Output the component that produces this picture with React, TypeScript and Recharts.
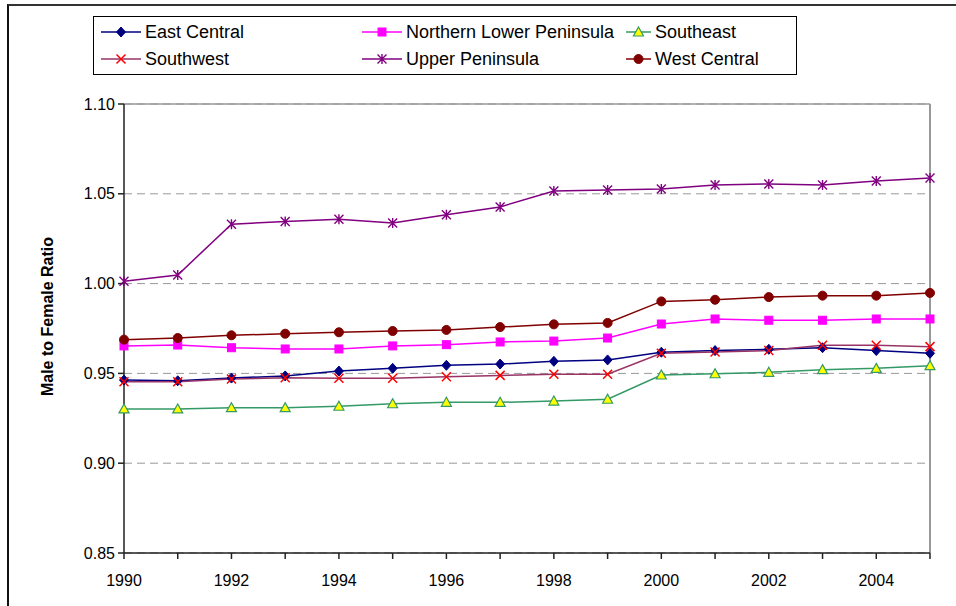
import { LineChart, Line, XAxis, YAxis, CartesianGrid, Legend, ReferenceLine } from 'recharts';

const years = [1990, 1991, 1992, 1993, 1994, 1995, 1996, 1997, 1998, 1999, 2000, 2001, 2002, 2003, 2004, 2005];

const eastCentral = [0.9463, 0.9459, 0.9474, 0.9486, 0.9513, 0.9528, 0.9545, 0.9552, 0.9567, 0.9575, 0.9618, 0.9627, 0.9634, 0.9643, 0.9627, 0.9612];
const northernLower = [0.9653, 0.9658, 0.9643, 0.9636, 0.9636, 0.9653, 0.966, 0.9675, 0.968, 0.9697, 0.9775, 0.9803, 0.9796, 0.9796, 0.9803, 0.9803];
const southeast = [0.9302, 0.9302, 0.9309, 0.9309, 0.9317, 0.9331, 0.9339, 0.9339, 0.9346, 0.9356, 0.9491, 0.9498, 0.9506, 0.9521, 0.9528, 0.9543];
const southwest = [0.9454, 0.9454, 0.9469, 0.9476, 0.9473, 0.9473, 0.9481, 0.9489, 0.9495, 0.9495, 0.9612, 0.9619, 0.9627, 0.9657, 0.9657, 0.9649];
const upperPeninsula = [1.0013, 1.0048, 1.0331, 1.0346, 1.0358, 1.0338, 1.0383, 1.0427, 1.0516, 1.0521, 1.0527, 1.0549, 1.0555, 1.0549, 1.0571, 1.0588];
const westCentral = [0.9688, 0.9697, 0.9712, 0.9721, 0.9729, 0.9736, 0.9742, 0.9758, 0.9773, 0.9781, 0.9901, 0.991, 0.9925, 0.9933, 0.9933, 0.9948];

const yTicks = [0.85, 0.9, 0.95, 1.0, 1.05, 1.1];

type Shape = 'diamond' | 'square' | 'triangle' | 'x' | 'star' | 'circle';

interface SeriesDef {
  key: string;
  name: string;
  values: number[];
  line: string;
  marker: string;
  fill: string;
  shape: Shape;
}

const series: SeriesDef[] = [
  { key: 'ec', name: 'East Central', values: eastCentral, line: '#000080', marker: '#000080', fill: '#000080', shape: 'diamond' },
  { key: 'nlp', name: 'Northern Lower Peninsula', values: northernLower, line: '#FF00FF', marker: '#FF00FF', fill: '#FF00FF', shape: 'square' },
  { key: 'se', name: 'Southeast', values: southeast, line: '#339966', marker: '#339966', fill: '#FFFF00', shape: 'triangle' },
  { key: 'sw', name: 'Southwest', values: southwest, line: '#993366', marker: '#FF0000', fill: 'none', shape: 'x' },
  { key: 'up', name: 'Upper Peninsula', values: upperPeninsula, line: '#800080', marker: '#800080', fill: 'none', shape: 'star' },
  { key: 'wc', name: 'West Central', values: westCentral, line: '#800000', marker: '#800000', fill: '#800000', shape: 'circle' },
];

const data = years.map((year, i) => {
  const row: Record<string, number> = { year };
  series.forEach((s) => {
    row[s.key] = s.values[i];
  });
  return row;
});

const FONT = '"Liberation Sans", Arial, sans-serif';

function Marker({ cx, cy, s }: { cx: number; cy: number; s: SeriesDef }) {
  switch (s.shape) {
    case 'diamond':
      return <path d={`M${cx},${cy - 5}L${cx + 4.5},${cy}L${cx},${cy + 5}L${cx - 4.5},${cy}Z`} fill={s.fill} stroke={s.marker} />;
    case 'square':
      return <rect x={cx - 4} y={cy - 4} width={8} height={8} fill={s.fill} stroke={s.marker} />;
    case 'triangle':
      return <path d={`M${cx},${cy - 5}L${cx + 5},${cy + 4}L${cx - 5},${cy + 4}Z`} fill={s.fill} stroke={s.marker} strokeWidth={1.2} />;
    case 'x':
      return (
        <path d={`M${cx - 4.5},${cy - 4.5}L${cx + 4.5},${cy + 4.5}M${cx + 4.5},${cy - 4.5}L${cx - 4.5},${cy + 4.5}`} stroke={s.marker} strokeWidth={1.5} />
      );
    case 'star':
      return (
        <path
          d={`M${cx - 4.5},${cy - 4.5}L${cx + 4.5},${cy + 4.5}M${cx + 4.5},${cy - 4.5}L${cx - 4.5},${cy + 4.5}M${cx},${cy - 5}L${cx},${cy + 5}`}
          stroke={s.marker}
          strokeWidth={1.4}
        />
      );
    default:
      return <circle cx={cx} cy={cy} r={4.5} fill={s.fill} stroke={s.marker} />;
  }
}

// legend cell positions, relative to the legend box
const legendCells = [
  { x: 7, y: 15, w: 40 },
  { x: 268, y: 15, w: 40 },
  { x: 532, y: 15, w: 25 },
  { x: 7, y: 42, w: 40 },
  { x: 268, y: 42, w: 40 },
  { x: 532, y: 42, w: 25 },
];

function LegendBox() {
  return (
    <div style={{ position: 'relative', width: 704, height: 59, border: '1px solid #000', background: '#fff', boxSizing: 'border-box' }}>
      {series.map((s, i) => {
        const c = legendCells[i];
        return (
          <div key={s.key} style={{ position: 'absolute', left: c.x, top: c.y - 11, height: 22, display: 'flex', alignItems: 'center' }}>
            <svg width={c.w} height={20} style={{ display: 'block' }}>
              <line x1={0} y1={10} x2={c.w} y2={10} stroke={s.line} strokeWidth={1.5} />
              <Marker cx={c.w / 2} cy={10} s={s} />
            </svg>
            <span style={{ marginLeft: 4, fontFamily: FONT, fontSize: 18, lineHeight: '22px', color: '#000', whiteSpace: 'nowrap' }}>{s.name}</span>
          </div>
        );
      })}
    </div>
  );
}

function YTitle(props: any) {
  const vb = props.viewBox || { x: 64, y: 104, width: 60, height: 449 };
  const x = vb.x + (vb.width ?? 60) - 77;
  const y = vb.y + vb.height / 2 - 12;
  return (
    <text x={x} y={y} transform={`rotate(-90 ${x} ${y})`} textAnchor="middle" dominantBaseline="central" fontWeight="bold" fontSize={16} fill="#000" fontFamily={FONT}>
      Male to Female Ratio
    </text>
  );
}

export default function App() {
  return (
    <div style={{ position: 'absolute', left: 0, top: 0, width: 956, height: 606, background: '#fff', overflow: 'hidden' }}>
      <div style={{ position: 'absolute', left: 7, top: 4, width: 1000, height: 700, borderLeft: '2px solid #111', borderTop: '2px solid #333' }} />
      <LineChart
        width={956}
        height={606}
        data={data}
        margin={{ top: 104, right: 26, left: 64, bottom: 23 }}
        style={{ fontFamily: FONT }}
      >
        <CartesianGrid vertical={false} stroke="#999" strokeDasharray="8 5" />
        <ReferenceLine y={1.1} stroke="#999" strokeWidth={1.5} />
        <ReferenceLine x={2005} stroke="#999" strokeWidth={2} />
        <XAxis
          dataKey="year"
          type="number"
          domain={[1990, 2005]}
          ticks={years}
          interval={0}
          tickFormatter={(v: number) => (v % 2 === 0 && v < 2005 ? String(v) : '')}
          stroke="#222"
          strokeWidth={1.5}
          tickSize={6}
          tickMargin={16}
          height={30}
          tick={{ fill: '#000', fontSize: 16 }}
        />
        <YAxis
          type="number"
          domain={[0.85, 1.1]}
          ticks={yTicks}
          interval={0}
          tickFormatter={(v: number) => v.toFixed(2)}
          stroke="#222"
          strokeWidth={1.5}
          tickSize={6}
          tickMargin={3}
          width={60}
          tick={{ fill: '#000', fontSize: 16 }}
          label={<YTitle />}
        />
        <Legend
          layout="horizontal"
          verticalAlign="middle"
          align="center"
          wrapperStyle={{ position: 'absolute', left: 93, top: 16, width: 704, height: 59 }}
          content={() => <LegendBox />}
        />
        {series.map((s) => (
          <Line
            key={s.key}
            dataKey={s.key}
            name={s.name}
            type="linear"
            stroke={s.line}
            strokeWidth={1.5}
            isAnimationActive={false}
            dot={(p: any) => <Marker key={`${s.key}-${p.index}`} cx={p.cx} cy={p.cy} s={s} />}
            activeDot={false}
          />
        ))}
      </LineChart>
    </div>
  );
}
